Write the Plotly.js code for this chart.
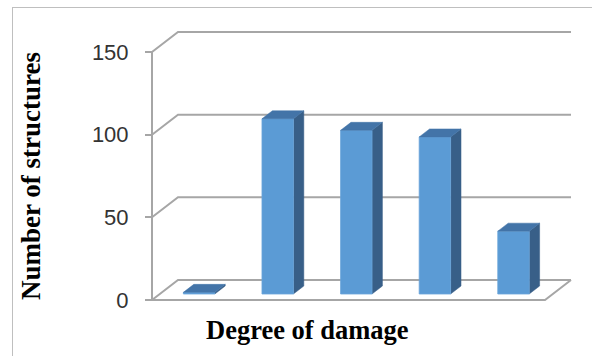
<!DOCTYPE html>
<html><head><meta charset="utf-8">
<script src="https://cdn.plot.ly/plotly-3.0.1.min.js"></script>
<style>
html,body{margin:0;padding:0;background:#fff;}
#wrap{position:relative;width:592px;height:356px;overflow:hidden;}
#chart{position:absolute;left:0;top:0;width:592px;height:356px;}
#frame{position:absolute;left:12px;top:7px;width:700px;height:500px;border-left:1px solid #BFBFBF;border-top:1px solid #BFBFBF;pointer-events:none;}
</style></head><body>
<div id="wrap"><div id="chart"></div><div id="frame"></div></div>
<script>
// ---- data ----
const categories = ["1", "2", "3", "4", "5"];
const values = [1, 106, 99, 95, 38];
const tickVals = [0, 50, 100, 150];
const tickText = ["0", "50", "100", "150"];
const xTitle = "Degree of damage";
const yTitle = "Number of structures";

// ---- layout geometry ----
const W = 592, H = 356;
const L = 144, R = 14, T = 26, B = 50;
const plotW = W - L - R, plotH = H - T - B;
const PX = 78.6;          // px per category unit
const PY = 1.6533;        // px per value unit
const zeroPx = 300;       // pixel row of value 0 on the front edge
const X0 = -0.5, X1 = categories.length - 0.5;
const xStart = X0 - (152 - L) / PX;
const xRange = [xStart, xStart + plotW / PX];
const yRange = [-(T + plotH - zeroPx) / PY, (zeroPx - T) / PY];
const DX = 26 / PX, DY = 20 / PY;   // full depth offset
const D0 = 0.3, D1 = 0.7, HW = 0.2; // bar depth band & half width
const gridColor = "#A6A6A6";

const traces = [];
// back wall + side wall gridlines
let gx = [], gy = [];
tickVals.forEach(t => { gx.push(X0, X0 + DX, X1 + DX, null); gy.push(t, t + DY, t + DY, null); });
traces.push({x: gx, y: gy, mode: "lines", line: {color: gridColor, width: 2}, hoverinfo: "skip"});
// floor front & right edge, front vertical edge
traces.push({x: [X0, X1, X1 + DX], y: [0, 0, DY], mode: "lines", line: {color: gridColor, width: 2}, hoverinfo: "skip"});
traces.push({x: [X0, X0], y: [0, tickVals[tickVals.length - 1]], mode: "lines", line: {color: gridColor, width: 2}, hoverinfo: "skip"});

// bars
let fx = [], fy = [], sx = [], sy = [], tx = [], ty = [];
values.forEach((v, i) => {
  const a = i - HW, b = i + HW;
  const ox0 = D0 * DX, oy0 = D0 * DY, ox1 = D1 * DX, oy1 = D1 * DY;
  // front
  fx.push(a + ox0, b + ox0, b + ox0, a + ox0, a + ox0, null);
  fy.push(oy0, oy0, oy0 + v, oy0 + v, oy0, null);
  // right side
  sx.push(b + ox0, b + ox1, b + ox1, b + ox0, b + ox0, null);
  sy.push(oy0, oy1, oy1 + v, oy0 + v, oy0, null);
  // top
  tx.push(a + ox0, b + ox0, b + ox1, a + ox1, a + ox0, null);
  ty.push(oy0 + v, oy0 + v, oy1 + v, oy1 + v, oy0 + v, null);
});
traces.push({x: sx, y: sy, mode: "lines", fill: "toself", fillcolor: "#385F88", line: {color: "#385F88", width: 0.5}, hoverinfo: "skip"});
traces.push({x: fx, y: fy, mode: "lines", fill: "toself", fillcolor: "#5B9BD5", line: {color: "#6AA5DA", width: 0.8}, hoverinfo: "skip"});
traces.push({x: tx, y: ty, mode: "lines", fill: "toself", fillcolor: "#4374A8", line: {color: "#4374A8", width: 0.5}, hoverinfo: "skip"});

function px2paperX(p) { return (p - L) / plotW; }
function px2paperY(p) { return (T + plotH - p) / plotH; }

const layout = {
  width: W, height: H,
  margin: {l: L, r: R, t: T, b: B, pad: 0},
  paper_bgcolor: "#fff", plot_bgcolor: "rgba(0,0,0,0)",
  showlegend: false,
  xaxis: {range: xRange, visible: false, fixedrange: true},
  yaxis: {
    range: yRange, anchor: "free", position: (152 - L) / plotW,
    tickvals: tickVals, ticktext: tickText,
    ticks: "outside", ticklen: 7, tickwidth: 2, tickcolor: gridColor,
    ticklabelstandoff: 12,
    showgrid: false, zeroline: false, showline: false,
    tickfont: {family: "Liberation Sans, Arial, sans-serif", size: 22, color: "#333333"},
    fixedrange: true
  },
  annotations: [
    {text: "<b>" + xTitle + "</b>", xref: "paper", yref: "paper",
     x: px2paperX(307), y: px2paperY(330), xanchor: "center", yanchor: "middle",
     showarrow: false, font: {family: "Liberation Serif, Times New Roman, serif", size: 26.5, color: "#000"}},
    {text: "<b>" + yTitle + "</b>", xref: "paper", yref: "paper",
     x: px2paperX(31), y: px2paperY(176), xanchor: "center", yanchor: "middle", textangle: -90,
     showarrow: false, font: {family: "Liberation Serif, Times New Roman, serif", size: 27, color: "#000"}}
  ]
};
Plotly.newPlot("chart", traces, layout, {displayModeBar: false, staticPlot: true});
</script>
</body></html>
